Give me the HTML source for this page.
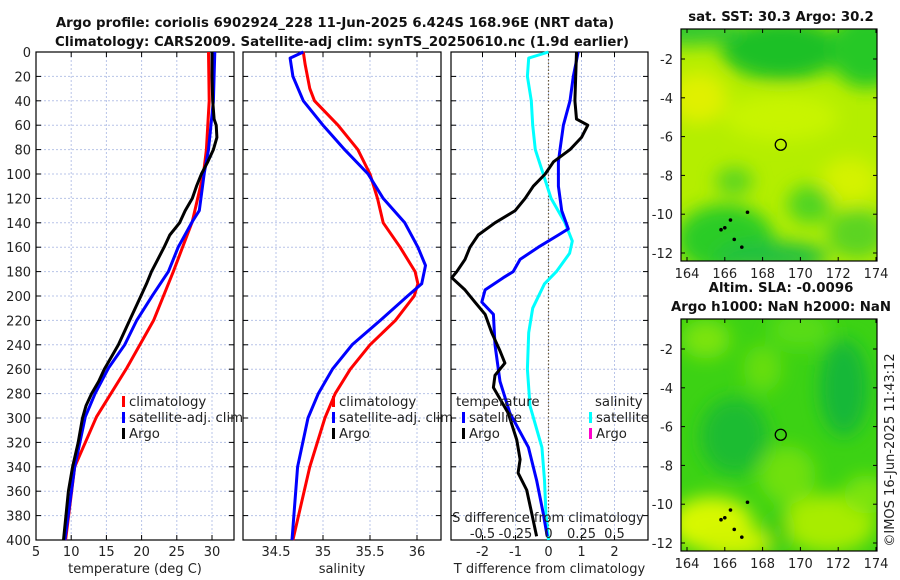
<!DOCTYPE html>
<html><head><meta charset="utf-8"><style>
body{margin:0;background:#fff;}
svg{display:block;font-family:"DejaVu Sans","Liberation Sans",sans-serif;}
.t{font-size:13px;fill:#222;}
.lg{font-size:13.3px;fill:#222;}
.b{font-weight:bold;font-size:13.3px;fill:#111;}
</style></head><body>
<svg id="s" width="900" height="580" viewBox="0 0 900 580">
<defs>
<filter id="bl" x="-50%" y="-50%" width="200%" height="200%"><feGaussianBlur stdDeviation="9"/></filter>
<clipPath id="c1"><rect x="681" y="29" width="196" height="232"/></clipPath>
<clipPath id="c2"><rect x="681" y="319" width="196" height="232"/></clipPath>
</defs>
<text class="b" x="335" y="27" text-anchor="middle">Argo profile: coriolis 6902924_228 11-Jun-2025 6.424S 168.96E (NRT data)</text>
<text class="b" x="342" y="46" text-anchor="middle">Climatology: CARS2009. Satellite-adj clim: synTS_20250610.nc (1.9d earlier)</text>
<g id="maps"></g>
<g id="panels"></g>
</svg>
<script>
// ---- data ----
const depthTicks=[0,20,40,60,80,100,120,140,160,180,200,220,240,260,280,300,320,340,360,380,400];
const tTicks=[5,10,15,20,25,30];
const sTicks=[34.5,35,35.5,36];
const dTicks=[-2,-1,0,1,2];
const sdTickLabels=["-0.5","-0.25","0","0.25","0.5"];
const sdTickVals=[-0.5,-0.25,0,0.25,0.5];
const climTd=[0,40,80,99,139,180,220,259,299,340,400];
const climT=[29.5,29.6,29.2,28.8,27.2,24.5,21.7,17.9,13.6,10.5,9.2];
const satTd=[0,40,80,99,130,139,160,180,199,220,240,259,280,299,340,400];
const satT=[30.4,30.2,29.5,28.9,28.2,27.2,25.2,23.8,21.6,19.3,17.6,15.3,13.4,12.0,10.5,9.1];
const argoTd=[0,20,40,55,60,70,80,90,100,110,120,130,140,150,160,170,180,190,200,220,240,260,270,280,290,300,320,340,360,400];
const argoT=[30.0,30.0,30.1,30.3,30.6,30.7,30.2,29.4,28.5,27.8,27.2,26.2,25.4,24.0,23.2,22.3,21.4,20.7,19.9,18.3,16.7,14.7,13.9,12.9,12.1,11.6,11.0,10.2,9.6,8.9];
const climSd=[0,10,30,40,60,80,100,120,140,160,180,190,200,220,240,260,280,300,340,400];
const climS=[34.79,34.81,34.86,34.91,35.16,35.37,35.5,35.58,35.64,35.82,35.98,36.01,35.97,35.77,35.5,35.29,35.13,35.02,34.86,34.68];
const satSd=[0,5,20,40,60,80,100,120,140,160,175,190,200,220,240,260,280,300,340,400];
const satS=[34.79,34.65,34.68,34.79,35.0,35.23,35.48,35.64,35.87,36.01,36.09,36.05,35.9,35.61,35.31,35.1,34.95,34.84,34.73,34.67];
const dArgoD=[0,40,55,60,70,80,90,100,110,120,130,140,150,160,170,180,185,195,205,215,230,245,255,265,275,296,318,334,345,359,378,397];
const dArgoT=[0.85,0.8,0.85,1.19,1.0,0.65,0.15,-0.1,-0.46,-0.71,-1.01,-1.62,-2.13,-2.38,-2.53,-2.78,-2.93,-2.53,-2.23,-1.92,-1.72,-1.47,-1.32,-1.62,-1.67,-1.22,-0.96,-0.86,-0.92,-0.66,-0.51,-0.36];
const dSatD=[0,20,40,60,80,90,110,130,145,150,160,170,180,185,195,205,215,240,270,296,324,351,378,397];
const dSatT=[0.9,0.75,0.65,0.45,0.35,0.3,0.3,0.4,0.6,0.3,-0.31,-0.86,-1.07,-1.37,-1.92,-2.02,-1.67,-1.62,-1.47,-1.17,-0.61,-0.36,-0.16,-0.04];
const dSatSD=[0,5,20,40,60,80,100,120,140,155,165,180,190,210,230,260,290,324,351,378,400];
const dSatS=[0,-0.15,-0.16,-0.13,-0.12,-0.1,-0.04,0.02,0.125,0.18,0.16,0.06,-0.03,-0.12,-0.15,-0.16,-0.14,-0.05,-0.03,-0.02,0];
const lonTicks=[164,166,168,170,172,174];
const latTicks=[-2,-4,-6,-8,-10,-12];
// ---- helpers ----
const NS="http://www.w3.org/2000/svg";
function mk(tag,attrs,parent,txt){const e=document.createElementNS(NS,tag);for(const k in attrs)e.setAttribute(k,attrs[k]);if(txt!==undefined)e.textContent=txt;parent.appendChild(e);return e;}
const Y0=52,Y1=540;
const yD=d=>Y0+d*(Y1-Y0)/400;
const panels=document.getElementById('panels');
function panel(name,x0,x1,v0,v1,xt,xtl,title,showY){
  const g=mk('g',{},panels);
  
  
  const sx=v=>x0+(v-v0)*(x1-x0)/(v1-v0);
  xt.forEach((v,i)=>{const x=sx(v);
    const l=mk('line',{x1:x,x2:x,y1:Y0,y2:Y1,stroke:'#b8c4e8','stroke-width':1,'stroke-dasharray':'2,2'},g);
    
    mk('line',{x1:x,x2:x,y1:Y1,y2:Y1-5,stroke:'#000'},g);mk('line',{x1:x,x2:x,y1:Y0,y2:Y0+5,stroke:'#000'},g);
    const t=mk('text',{x:x,y:Y1+16,'text-anchor':'middle',class:'t'},g,xtl[i]);
    });
  depthTicks.forEach(d=>{const y=yD(d);
    const l=mk('line',{x1:x0,x2:x1,y1:y,y2:y,stroke:'#b8c4e8','stroke-width':1,'stroke-dasharray':'2,2'},g);
    
    mk('line',{x1:x0,x2:x0+5,y1:y,y2:y,stroke:'#000'},g);mk('line',{x1:x1,x2:x1-5,y1:y,y2:y,stroke:'#000'},g);
    if(showY){const t=mk('text',{x:x0-5,y:y+5,'text-anchor':'end',class:'t'},g,String(d));
      }});
  const f=mk('rect',{x:x0,y:Y0,width:x1-x0,height:Y1-Y0,fill:'none',stroke:'#000','stroke-width':1.2},g);
  
  const tt=mk('text',{x:(x0+x1)/2,y:Y1+33,'text-anchor':'middle',class:'t'},g,title);
  
  return {g,sx};
}
function line(p,ds,vs,color,name,w){
  const pts=ds.map((d,i)=>p.sx(vs[i]).toFixed(1)+','+yD(d).toFixed(1)).join(' ');
  const e=mk('polyline',{points:pts,fill:'none',stroke:color,'stroke-width':w||3,'stroke-linejoin':'round'},p.g);
  
  
}
function legend(g,x,y,color,label,name){
  mk('rect',{x:x,y:y-10,width:3,height:11,fill:color},g);
  const t=mk('text',{x:x+7,y:y,class:'lg'},g,label);
  
  
}
// panel 1
const p1=panel('temperature-panel',36,234,5,5+198/7.04,tTicks,tTicks.map(String),'temperature (deg C)',true);
line(p1,climTd,climT,'#f00','climatology-temp-line');
line(p1,satTd,satT,'#00f','satellite-temp-line');
line(p1,argoTd,argoT,'#000','argo-temp-line');
legend(p1.g,122,406,'#f00','climatology','legend-climatology');
legend(p1.g,122,422,'#00f','satellite-adj. clim','legend-satellite');
legend(p1.g,122,438,'#000','Argo','legend-argo');
// panel 2
const p2=panel('salinity-panel',243,441,35+(243-323)/94,35+(441-323)/94,sTicks,sTicks.map(String),'salinity',false);
line(p2,climSd,climS,'#f00','climatology-salinity-line');
line(p2,satSd,satS,'#00f','satellite-salinity-line');
legend(p2.g,332,406,'#f00','climatology','legend-climatology');
legend(p2.g,332,422,'#00f','satellite-adj. clim','legend-satellite');
legend(p2.g,332,438,'#000','Argo','legend-argo');
// panel 3
const p3=panel('difference-panel',451,648,(451-548.5)/33,(648-548.5)/33,dTicks,dTicks.map(String),'T difference from climatology',false);
const zl=mk('line',{x1:p3.sx(0),x2:p3.sx(0),y1:Y0,y2:Y1,stroke:'#6b5a3a','stroke-width':1.2,'stroke-dasharray':'1.5,2'},p3.g);

line(p3,dSatSD,dSatS.map(v=>v*4),'#0ff','satellite-salinity-diff-line');
line(p3,dSatD,dSatT,'#00f','satellite-temp-diff-line');
line(p3,dArgoD,dArgoT,'#000','argo-temp-diff-line');
const lt=mk('text',{x:456,y:406,class:'lg'},p3.g,'temperature');
legend(p3.g,462,422,'#00f','satellite','legend-temp-satellite');
legend(p3.g,462,438,'#000','Argo','legend-temp-argo');
const ls=mk('text',{x:595,y:406,class:'lg'},p3.g,'salinity');
legend(p3.g,589,422,'#0ff','satellite','legend-sal-satellite');
legend(p3.g,589,438,'#f0c','Argo','legend-sal-argo');
const sdt=mk('text',{x:548,y:522,'text-anchor':'middle',class:'t'},p3.g,'S difference from climatology');

sdTickVals.forEach((v,i)=>{const t=mk('text',{x:p3.sx(v*4),y:538,'text-anchor':'middle',class:'t'},p3.g,sdTickLabels[i]);
  });
// ---- maps ----
const maps=document.getElementById('maps');
const lonX=l=>687+(l-164)*18.9;
function map(name,top,clip,base,blobs,titles){
  const g=mk('g',{},maps);
  
  
  const latY=la=>top+30+(-2-la)*19.4;
  const c=mk('g',{'clip-path':'url(#'+clip+')'},g);
  mk('rect',{x:681,y:top,width:196,height:232,fill:base},c);
  const bg=mk('g',{filter:'url(#bl)'},c);
  blobs.forEach(b=>mk('ellipse',{cx:lonX(b[0]),cy:latY(b[1]),rx:b[2]*18.9,ry:b[3]*19.4,fill:b[4]},bg));
  [[165.8,-10.8],[166,-10.7],[166.3,-10.3],[166.5,-11.3],[166.9,-11.7],[167.2,-9.9]].forEach(p=>{
    const d=mk('circle',{cx:lonX(p[0]),cy:latY(p[1]),r:1.8,fill:'#000'},c);
    });
  const m=mk('circle',{cx:lonX(168.96),cy:latY(-6.42),r:5.5,fill:'none',stroke:'#000','stroke-width':1.3},g);
  
  mk('rect',{x:681,y:top,width:196,height:232,fill:'none',stroke:'#000','stroke-width':1.2},g);
  lonTicks.forEach(l=>{const x=lonX(l);mk('line',{x1:x,x2:x,y1:top+232,y2:top+228,stroke:'#000'},g);mk('line',{x1:x,x2:x,y1:top,y2:top+4,stroke:'#000'},g);
    const t=mk('text',{x:x,y:top+249,'text-anchor':'middle',class:'t'},g,String(l));});
  latTicks.forEach(la=>{const y=latY(la);mk('line',{x1:681,x2:685,y1:y,y2:y,stroke:'#000'},g);mk('line',{x1:877,x2:873,y1:y,y2:y,stroke:'#000'},g);
    const t=mk('text',{x:673,y:y+5,'text-anchor':'end',class:'t'},g,String(la));});
  titles.forEach((s,i)=>{const t=mk('text',{x:781,y:titles.length==1?top-8:top-27+i*19,'text-anchor':'middle',class:'b'},g,s);});
}
map('sst-map',29,'c1','#b4ee00',[
 [169,-1.5,3.2,1.6,'#1cc028'],[173.5,-1.5,2,2,'#28c828'],[164,-0.5,3,0.8,'#30c830'],
 [164.6,-4,1.5,1.3,'#e0f000'],[169,-5,3,1.2,'#c8f400'],[172.6,-8.3,1.5,1.2,'#d4f200'],
 [166,-11.3,2.6,1.8,'#2ccc28'],[168.5,-12.2,3,0.8,'#20c040'],[170.5,-9.5,1.2,1,'#50d420'],
 [166.5,-8.3,1,0.7,'#58d420'],[173,-11,1.6,1.3,'#5cd420']],['sat. SST: 30.3 Argo: 30.2']);
map('sla-map',319,'c2','#3cd214',[
 [165,-1.5,1.3,1,'#7ce40a'],[168,-3,1,1.2,'#66de10'],[170,-1,1.6,1,'#58dc14'],
 [172.3,-4,1.3,2.5,'#18b838'],[166.5,-6.5,1.8,2,'#1cbc30'],[169.3,-8.5,1.5,1.5,'#70e00c'],
 [165.3,-11,2.2,1.4,'#d8f800'],[166.5,-12,2,0.8,'#d0f400'],[171.5,-11,2.5,1.5,'#a8ec04'],
 [168.8,-11.4,0.6,1,'#38cc18'],[173.5,-9.5,1.2,1,'#7ce40a']],['Altim. SLA: -0.0096','Argo h1000: NaN h2000: NaN']);
const cr=mk('text',{x:894,y:450,'text-anchor':'middle',transform:'rotate(-90 894 450)',class:'t'},maps,'©IMOS 16-Jun-2025 11:43:12');

</script>
</body></html>
